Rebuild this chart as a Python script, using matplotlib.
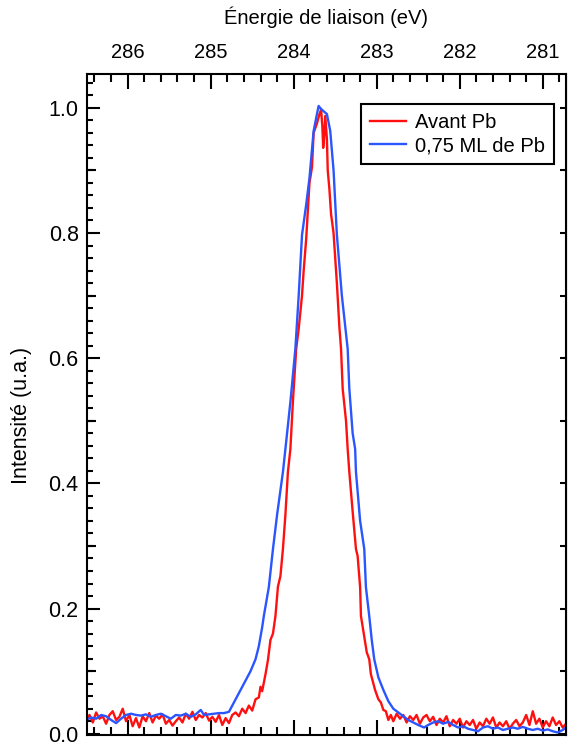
import numpy as np
import matplotlib
matplotlib.use("Agg")
import matplotlib.pyplot as plt
from matplotlib.ticker import MultipleLocator

plt.rcParams['font.family'] = ['Liberation Sans', 'DejaVu Sans']

# Avant Pb (red), binding energy in eV / normalised intensity
e_avant = [
    286.50, 286.46, 286.42, 286.38, 286.34, 286.30, 286.26, 286.22, 286.18, 286.14,
    286.10, 286.06, 286.02, 285.98, 285.94, 285.90, 285.86, 285.82, 285.78, 285.74,
    285.70, 285.66, 285.62, 285.58, 285.54, 285.50, 285.46, 285.42, 285.38, 285.34,
    285.30, 285.26, 285.22, 285.18, 285.14, 285.10, 285.06, 285.02, 284.98, 284.94,
    284.90, 284.86, 284.82, 284.78, 284.74, 284.70, 284.66, 284.62, 284.58, 284.54,
    284.50, 284.46, 284.42, 284.40, 284.38, 284.34, 284.31, 284.28, 284.25, 284.22,
    284.19, 284.16, 284.13, 284.10, 284.07, 284.04, 284.01, 283.97, 283.94, 283.90,
    283.88, 283.85, 283.81, 283.78, 283.76, 283.72, 283.69, 283.67, 283.655, 283.645,
    283.635, 283.62, 283.60, 283.59, 283.57, 283.55, 283.52, 283.48, 283.45, 283.43,
    283.41, 283.37, 283.35, 283.33, 283.29, 283.25, 283.23, 283.20, 283.19, 283.15,
    283.12, 283.09, 283.07, 283.05, 283.02, 282.98, 282.95, 282.92, 282.89, 282.86,
    282.83, 282.80, 282.76, 282.72, 282.68, 282.64, 282.60, 282.56, 282.52, 282.48,
    282.44, 282.40, 282.36, 282.32, 282.28, 282.24, 282.20, 282.16, 282.12, 282.08,
    282.04, 282.00, 281.96, 281.92, 281.88, 281.84, 281.80, 281.76, 281.72, 281.68,
    281.64, 281.60, 281.56, 281.52, 281.48, 281.44, 281.40, 281.36, 281.32, 281.28,
    281.24, 281.20, 281.16, 281.12, 281.08, 281.04, 281.00, 280.96, 280.92, 280.88,
    280.84, 280.80, 280.76, 280.72,
]
i_avant = [
    0.022, 0.030, 0.018, 0.034, 0.024, 0.028, 0.016, 0.030, 0.036, 0.022,
    0.027, 0.040, 0.020, 0.030, 0.012, 0.025, 0.010, 0.028, 0.020, 0.033,
    0.018, 0.029, 0.024, 0.031, 0.016, 0.022, 0.013, 0.020, 0.026, 0.018,
    0.032, 0.024, 0.035, 0.022, 0.030, 0.026, 0.033, 0.021, 0.027, 0.019,
    0.030, 0.014, 0.025, 0.017, 0.030, 0.034, 0.028, 0.040, 0.033, 0.045,
    0.037, 0.055, 0.058, 0.075, 0.068, 0.095, 0.118, 0.150, 0.160, 0.188,
    0.235, 0.252, 0.295, 0.350, 0.418, 0.455, 0.530, 0.615, 0.647, 0.700,
    0.740, 0.790, 0.880, 0.905, 0.960, 0.975, 0.990, 0.997, 0.970, 0.936,
    0.950, 0.987, 0.950, 0.900, 0.870, 0.830, 0.800, 0.720, 0.650, 0.615,
    0.551, 0.500, 0.455, 0.418, 0.355, 0.295, 0.284, 0.234, 0.188, 0.155,
    0.130, 0.119, 0.095, 0.085, 0.070, 0.055, 0.050, 0.038, 0.036, 0.022,
    0.030, 0.020, 0.032, 0.024, 0.030, 0.018, 0.028, 0.022, 0.030, 0.016,
    0.026, 0.030, 0.020, 0.027, 0.014, 0.024, 0.018, 0.028, 0.012, 0.022,
    0.016, 0.024, 0.010, 0.020, 0.014, 0.022, 0.008, 0.018, 0.012, 0.024,
    0.016, 0.026, 0.010, 0.018, 0.012, 0.020, 0.008, 0.016, 0.022, 0.012,
    0.018, 0.030, 0.014, 0.036, 0.016, 0.024, 0.010, 0.020, 0.012, 0.026,
    0.014, 0.020, 0.010, 0.016,
]

# 0,75 ML de Pb (blue)
e_pb = [
    286.50, 286.44, 286.38, 286.32, 286.26, 286.20, 286.14, 286.08, 286.02, 285.96,
    285.90, 285.84, 285.78, 285.72, 285.66, 285.60, 285.54, 285.48, 285.42, 285.36,
    285.30, 285.24, 285.18, 285.12, 285.08, 285.02, 284.96, 284.90, 284.84, 284.78,
    284.74, 284.70, 284.64, 284.58, 284.52, 284.46, 284.42, 284.38, 284.36, 284.30,
    284.25, 284.20, 284.13, 284.10, 284.04, 283.98, 283.94, 283.90, 283.85, 283.81,
    283.76, 283.72, 283.70, 283.67, 283.60, 283.56, 283.52, 283.48, 283.42, 283.35,
    283.33, 283.29, 283.26, 283.25, 283.20, 283.15, 283.13, 283.09, 283.06, 283.03,
    282.98, 282.92, 282.86, 282.80, 282.74, 282.68, 282.62, 282.56, 282.50, 282.43,
    282.38, 282.32, 282.26, 282.20, 282.14, 282.08, 282.02, 281.96, 281.90, 281.84,
    281.78, 281.72, 281.66, 281.60, 281.54, 281.48, 281.42, 281.36, 281.30, 281.24,
    281.18, 281.12, 281.06, 281.00, 280.94, 280.88, 280.82, 280.76, 280.72,
]
i_pb = [
    0.022, 0.026, 0.024, 0.030, 0.028, 0.022, 0.017, 0.024, 0.030, 0.032,
    0.030, 0.029, 0.031, 0.027, 0.030, 0.032, 0.028, 0.024, 0.030, 0.029,
    0.032, 0.027, 0.031, 0.038, 0.030, 0.031, 0.032, 0.033, 0.033, 0.035,
    0.045, 0.055, 0.070, 0.085, 0.100, 0.119, 0.140, 0.170, 0.188, 0.234,
    0.295, 0.350, 0.418, 0.455, 0.530, 0.615, 0.700, 0.797, 0.845, 0.888,
    0.963, 0.990, 1.003, 0.998, 0.990, 0.963, 0.900, 0.797, 0.700, 0.615,
    0.551, 0.480, 0.455, 0.418, 0.340, 0.295, 0.234, 0.188, 0.150, 0.119,
    0.090, 0.070, 0.052, 0.040, 0.034, 0.028, 0.022, 0.018, 0.014, 0.010,
    0.014, 0.018, 0.020, 0.016, 0.019, 0.014, 0.010, 0.012, 0.008, 0.006,
    0.004, 0.010, 0.012, 0.008, 0.010, 0.006, 0.008, 0.010, 0.008, 0.011,
    0.008, 0.006, 0.008, 0.005, 0.007, 0.004, 0.002, 0.006, 0.010,
]

fig = plt.figure(figsize=(5.68, 7.43), dpi=100)
ax = fig.add_axes([87 / 568, 1 - 735 / 743, (566 - 87) / 568, (735 - 74) / 743])

ax.plot(e_avant, i_avant, color='#ff1010', lw=1.7, label='Avant Pb')
ax.plot(e_pb, i_pb, color='#2a55ff', lw=1.7, label='0,75 ML de Pb')

ax.set_xlim(286.49, 280.72)
ax.set_ylim(-0.002, 1.054)

for sp in ax.spines.values():
    sp.set_linewidth(1.5)

# x axis: labels on top, ticks inside on top and bottom
ax.xaxis.set_major_locator(MultipleLocator(1))
ax.xaxis.set_minor_locator(MultipleLocator(0.2))
ax.tick_params(axis='x', which='both', direction='in', top=True, bottom=True,
               labeltop=True, labelbottom=False, width=1.5, labelsize=14.5, pad=9)
ax.tick_params(axis='x', which='major', length=11)
ax.tick_params(axis='x', which='minor', length=5.5)
ax.xaxis.set_label_position('top')
ax.set_xlabel('Énergie de liaison (eV)', fontsize=14.5, labelpad=13)

# y axis
ax.yaxis.set_major_locator(MultipleLocator(0.2))
ax.yaxis.set_minor_locator(MultipleLocator(0.02))
ax.yaxis.set_major_formatter(lambda v, p: f'{v:.1f}')
ax.tick_params(axis='y', which='both', direction='in', left=True, right=False,
               width=1.5, labelsize=15.5, pad=6)
ax.tick_params(axis='y', which='major', length=9)
ax.tick_params(axis='y', which='minor', length=4.5)
ax.set_ylabel('Intensité (u.a.)', fontsize=15.5)
ax.yaxis.set_label_coords(-0.114, 0.483)

# medium ticks on the left, short ticks on the right
mid = ax.secondary_yaxis('left')
mid.set_yticks([0.1, 0.3, 0.5, 0.7, 0.9])
mid.tick_params(direction='in', length=6.5, width=1.5, labelleft=False)
mid.spines['left'].set_visible(False)
rt = ax.secondary_yaxis('right')
rt.set_yticks([0.0, 0.1, 0.2, 0.3, 0.4, 0.5, 0.6, 0.7, 0.8, 0.9, 1.0])
rt.tick_params(direction='in', length=4, width=1.5, labelright=False)

leg = ax.legend(loc='upper right', bbox_to_anchor=(554 / 568, 1 - 104 / 743),
                bbox_transform=fig.transFigure, fontsize=14.5, fancybox=False,
                edgecolor='black', framealpha=1, handlelength=1.8,
                handletextpad=0.45, labelspacing=0.2, borderpad=0.45, borderaxespad=0)
leg.get_frame().set_linewidth(1.5)

fig.savefig('out.png', dpi=100)
